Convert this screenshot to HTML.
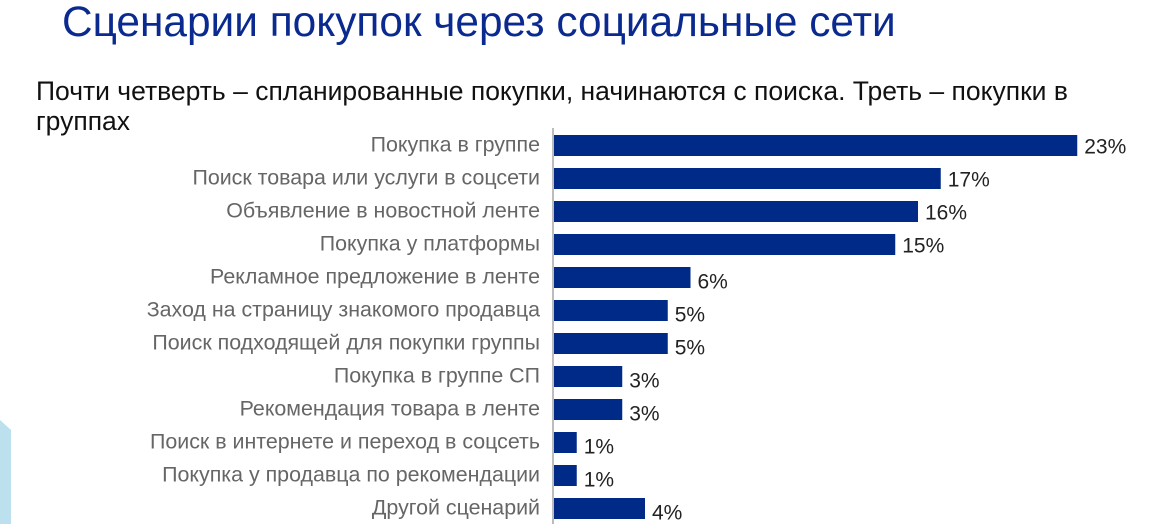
<!DOCTYPE html>
<html><head><meta charset="utf-8"><style>
body{margin:0;width:1162px;height:524px;overflow:hidden;background:#fff;font-family:"Liberation Sans","Noto Sans CJK JP",sans-serif;position:relative}
#title{position:absolute;left:62px;top:-2px;font-size:42.4px;color:#0b2a8f;white-space:nowrap}
#sub{position:absolute;left:36px;top:76px;width:1075px;font-size:26.5px;line-height:30px;color:#111}
svg{position:absolute;left:0;top:0}
</style></head><body>
<div id="title">Сценарии покупок через социальные сети</div>
<div id="sub">Почти четверть – спланированные покупки, начинаются с поиска. Треть – покупки в группах</div>
<svg id="chart" width="1162" height="524">
<polygon points="0,420 11,430 11,524 0,524" fill="#bde0ef"/>
</svg>
<script>
const categories=["Покупка в группе","Поиск товара или услуги в соцсети","Объявление в новостной ленте","Покупка у платформы","Рекламное предложение в ленте","Заход на страницу знакомого продавца","Поиск подходящей для покупки группы","Покупка в группе СП","Рекомендация товара в ленте","Поиск в интернете и переход в соцсеть","Покупка у продавца по рекомендации","Другой сценарий"];
const values=[23,17,16,15,6,5,5,3,3,1,1,4];
const valueLabels=["23%","17%","16%","15%","6%","5%","5%","3%","3%","1%","1%","4%"];
const svg=document.getElementById('chart');
const NS='http://www.w3.org/2000/svg';
const x0=554, pxPer=22.75;
function xs(v){return x0+v*pxPer;}
function yc(i){return 145.5+i*33;}
const ax=document.createElementNS(NS,'line');
ax.setAttribute('x1',553);ax.setAttribute('x2',553);ax.setAttribute('y1',128);ax.setAttribute('y2',524);
ax.setAttribute('stroke','#999');ax.setAttribute('stroke-width','1.3');


svg.appendChild(ax);
categories.forEach((c,i)=>{
  const r=document.createElementNS(NS,'rect');
  r.setAttribute('x',x0);r.setAttribute('y',yc(i)-10.5);r.setAttribute('width',xs(values[i])-x0);r.setAttribute('height',21);r.setAttribute('fill','#002a87');
  
  
  svg.appendChild(r);
  const t=document.createElementNS(NS,'text');
  t.setAttribute('x',540);t.setAttribute('y',yc(i)+6);t.setAttribute('text-anchor','end');t.setAttribute('font-size','21.4');t.setAttribute('fill','#666');
  t.textContent=c;
  
  
  svg.appendChild(t);
  const v=document.createElementNS(NS,'text');
  v.setAttribute('x',xs(values[i])+7);v.setAttribute('y',yc(i)+8+(i>=4?3:0));v.setAttribute('font-size','21');v.setAttribute('fill','#222');
  v.textContent=valueLabels[i];
  
  
  svg.appendChild(v);
});
</script>
</body></html>
